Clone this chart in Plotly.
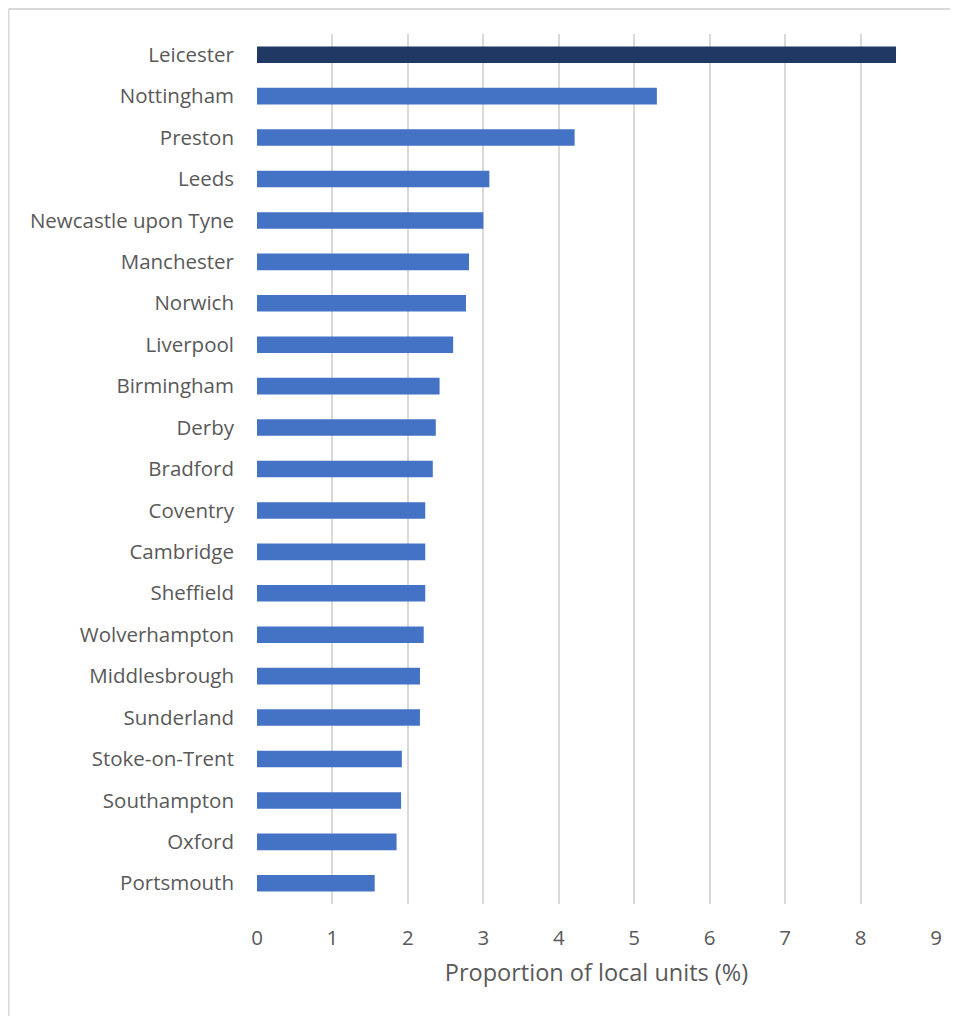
import plotly.graph_objects as go

cities = ["Leicester", "Nottingham", "Preston", "Leeds", "Newcastle upon Tyne",
          "Manchester", "Norwich", "Liverpool", "Birmingham", "Derby", "Bradford",
          "Coventry", "Cambridge", "Sheffield", "Wolverhampton", "Middlesbrough",
          "Sunderland", "Stoke-on-Trent", "Southampton", "Oxford", "Portsmouth"]
values = [8.47, 5.30, 4.21, 3.08, 3.00, 2.81, 2.77, 2.60, 2.42, 2.37, 2.33,
          2.23, 2.23, 2.23, 2.21, 2.16, 2.16, 1.92, 1.91, 1.85, 1.56]
highlight = "Leicester"
colors = ["#1f3864" if c == highlight else "#4472c4" for c in cities]
x_ticks = list(range(0, 10))
x_title = "Proportion of local units (%)"

# page has an 8px body margin, so the figure is sized to fill the rest
W, H = 950, 1008
ml, mr, mt, mb = 249, 22, 26, 112
pw, ph = W - ml - mr, H - mt - mb

fig = go.Figure(go.Bar(
    x=values, y=cities, orientation="h",
    marker=dict(color=colors, line=dict(width=0)),
    width=0.4,
))

# outer frame: only the top and left edges are visible in the reference
x_left = (0.5 - ml) / pw
x_right = (W - ml) / pw
y_top = (H - mb - 1) / ph
y_bottom = -mb / ph
frame = dict(type="line", xref="paper", yref="paper",
             line=dict(color="#d9d9d9", width=2), layer="below")

fig.update_layout(
    width=W, height=H,
    margin=dict(l=ml, r=mr, t=mt, b=mb, pad=0),
    paper_bgcolor="white", plot_bgcolor="white",
    font=dict(family="Open Sans, sans-serif", color="#595959", size=20),
    showlegend=False,
    xaxis=dict(
        range=[0, 9], tickvals=x_ticks, ticktext=[str(t) for t in x_ticks],
        showgrid=True, gridcolor="#d9d9d9", gridwidth=1.5,
        zeroline=False, showline=False,
        ticks="", ticklabelstandoff=19,
        tickfont=dict(size=20.5, color="#595959"),
        title=dict(text=x_title, font=dict(size=23.5, color="#595959"), standoff=15),
    ),
    yaxis=dict(
        categoryorder="array", categoryarray=cities[::-1],
        showgrid=False, zeroline=False, showline=False,
        ticks="", ticklabelstandoff=22,
        tickfont=dict(size=20.5, color="#595959"),
        range=[-0.5, len(cities) - 0.5],
    ),
    shapes=[
        dict(frame, x0=x_left, x1=x_right, y0=y_top, y1=y_top),
        dict(frame, x0=x_left, x1=x_left, y0=y_bottom, y1=y_top),
    ],
)

fig.write_html("out.html")
